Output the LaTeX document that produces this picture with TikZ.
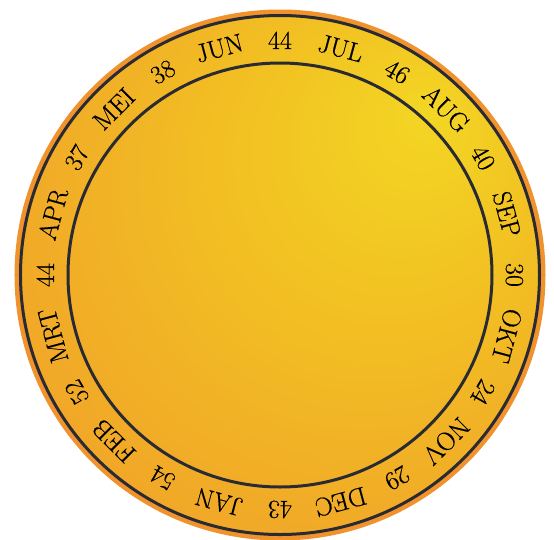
\documentclass[tikz,border=0pt]{standalone}
\usepackage{fontspec}
\newfontfamily\lblfont{Latin Modern Roman}[FakeBold=0.5]
\definecolor{sunY}{HTML}{F3D624}
\definecolor{sunM}{HTML}{F2C222}
\definecolor{sunN}{HTML}{F1AB27}
\definecolor{sunP}{HTML}{F09C2A}
\definecolor{sunO}{HTML}{EF922B}
\definecolor{rimcol}{HTML}{F0932C}
\definecolor{ringline}{HTML}{2A2A33}
\pgfdeclareradialshading{sunshade}{\pgfpoint{15bp}{16bp}}{color(0bp)=(sunY); color(14bp)=(sunM); color(30bp)=(sunN); color(42bp)=(sunP); color(50bp)=(sunO)}
\tikzset{
  ringstyle/.style={draw=ringline, line width=3pt},
  lbl/.style={font=\lblfont\fontsize{26}{30}\selectfont, text=black, inner sep=0pt, anchor=base}
}
\begin{document}
\begin{tikzpicture}[x=1pt,y=1pt]
\useasboundingbox (-280,-264) rectangle (274,275);
\fill[rimcol] (0,0) circle (265.5);
\shade[shading=sunshade] (0,0) circle (259.5);
\draw[ringstyle] (0,0) circle (259.5);
\draw[ringstyle] (0,0) circle (212);
\foreach \a/\t [count=\i] in {90/44, 75/JUL, 60/46, 45/AUG, 30/40, 15/SEP, 0/30, -15/OKT, -30/24, -45/NOV, -60/29, -75/DEC, -90/43, -105/JAN, -120/54, -135/FEB, -150/52, -165/MRT, 180/44, 165/APR, 150/37, 135/MEI, 120/38, 105/JUN}
  \node[lbl, rotate=\a-90] (l\i) at (\a:226) {\t};
\end{tikzpicture}
\end{document}
